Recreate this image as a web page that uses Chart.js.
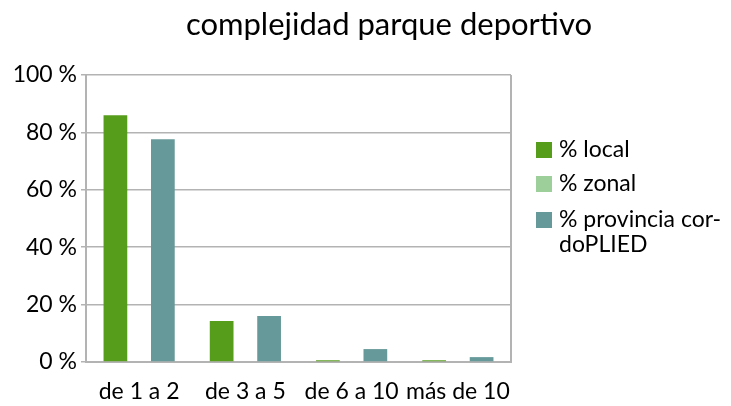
<!DOCTYPE html>
<html>
<head>
    <title>complejidad parque deportivo</title>
    <script src="https://cdn.jsdelivr.net/npm/chart.js@4.4.1/dist/chart.umd.min.js"></script>
    <style>
        body { margin: 0; background: #fff; }
        canvas { display: block; }
    </style>
</head>
<body>
    <canvas id="parqueChart" width="731" height="406"></canvas>

    <script>
        // datos
        const categorias = ['de 1 a 2', 'de 3 a 5', 'de 6 a 10', 'más de 10'];
        const local = [86, 14.3, 0.6, 0.6];
        const zonal = [0, 0, 0, 0];
        const provincia = [77.6, 16, 4.5, 1.7];
        const serieNombres = ['% local', '% zonal', ['% provincia cor-', 'doPLIED']];
        const serieColores = ['#579d1c', '#9dcf9b', '#669999'];
        const yTicks = [0, 20, 40, 60, 80, 100];

        const fuente = 'Lato, "Noto Sans", sans-serif';
        const gris = '#b3b3b3';

        // titulo y leyenda dibujados a mano
        const extras = {
            id: 'extras',
            afterDraw(chart) {
                const ctx = chart.ctx;
                const area = chart.chartArea;
                ctx.save();
                // borde derecho del area
                ctx.strokeStyle = gris;
                ctx.lineWidth = 2;
                ctx.beginPath();
                ctx.moveTo(area.right, area.top);
                ctx.lineTo(area.right, area.bottom + 1);
                ctx.stroke();

                ctx.fillStyle = '#000';
                ctx.font = '31px ' + fuente;
                ctx.textAlign = 'center';
                ctx.textBaseline = 'alphabetic';
                ctx.fillText('complejidad parque deportivo', 389, 35);

                ctx.font = '23px ' + fuente;
                ctx.textAlign = 'left';
                ctx.textBaseline = 'middle';
                const filas = [150, 184, 220];
                serieNombres.forEach((nombre, i) => {
                    ctx.fillStyle = serieColores[i];
                    ctx.fillRect(536, filas[i] - 8, 16, 16);
                    ctx.fillStyle = '#000';
                    const lineas = Array.isArray(nombre) ? nombre : [nombre];
                    lineas.forEach((l, j) => ctx.fillText(l, 559, filas[i] + j * 25));
                });
                ctx.restore();
            }
        };

        new Chart(document.getElementById('parqueChart'), {
            type: 'bar',
            data: {
                labels: categorias,
                datasets: [
                    { label: '% local', data: local, backgroundColor: serieColores[0] },
                    { label: '% zonal', data: zonal, backgroundColor: serieColores[1] },
                    { label: '% provincia cordoPLIED', data: provincia, backgroundColor: serieColores[2] }
                ].map(d => Object.assign(d, { barPercentage: 1, categoryPercentage: 0.67 }))
            },
            options: {
                responsive: false,
                animation: false,
                layout: { padding: { top: 75, right: 220, left: 0, bottom: 0 } },
                plugins: {
                    legend: { display: false },
                    title: { display: false },
                    tooltip: { enabled: false }
                },
                scales: {
                    x: {
                        grid: { display: false, drawTicks: false },
                        border: { color: gris, width: 2 },
                        ticks: { color: '#000', font: { family: fuente, size: 23 }, padding: 16, maxRotation: 0, autoSkip: false },
                        afterFit: s => { s.height = 44; }
                    },
                    y: {
                        min: 0,
                        max: 100,
                        afterBuildTicks: s => { s.ticks = yTicks.map(v => ({ value: v })); },
                        grid: { color: gris, lineWidth: 1.5, tickLength: 5 },
                        border: { color: gris, width: 2 },
                        ticks: { color: '#000', font: { family: fuente, size: 23 }, padding: 4, callback: v => v + ' %' },
                        afterFit: s => { s.width = 86; }
                    }
                }
            },
            plugins: [extras]
        });
    </script>
</body>
</html>
